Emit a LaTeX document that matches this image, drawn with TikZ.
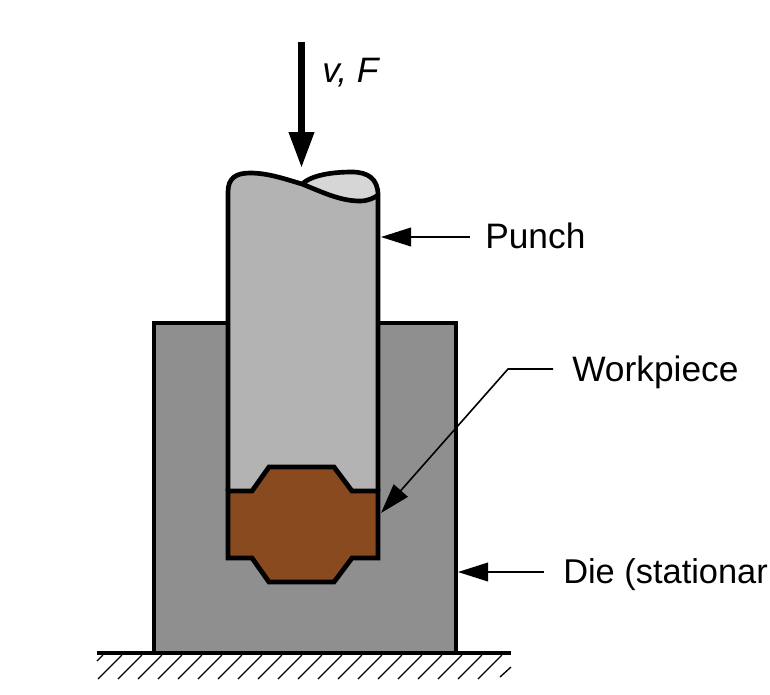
\documentclass[tikz,border=0pt]{standalone}
\usepackage{fontspec}
\setmainfont{Liberation Sans}
\usetikzlibrary{arrows.meta}
\definecolor{diegray}{HTML}{8F8F8F}
\definecolor{punchgray}{HTML}{B3B3B3}
\definecolor{punchtop}{HTML}{D6D6D6}
\definecolor{workbrown}{HTML}{8A4A20}
\tikzset{
  x=0.75pt,y=-0.75pt,
  thinout/.style={draw=black,line width=3.5pt,line join=round},
  hatchline/.style={draw=black,line width=1pt},
  leader/.style={draw=black,line width=1.2pt,-{Triangle[length=22.5pt,width=14pt,sep=0pt]},shorten >=0pt},
  labeltext/.style={font=\fontsize{26.5}{30}\selectfont,anchor=base west,inner sep=0pt,text=black},
}
\begin{document}
\begin{tikzpicture}
\useasboundingbox (0,0) rectangle (770,694);
\clip (0,0) rectangle (770,694);
% die
\path[fill=diegray,draw=black,line width=3.5pt,line join=miter] (154,652) -- (154,323) -- (456,323) -- (456,652);
% ground
\draw[line width=3.4pt] (97,653) -- (511,653);
\foreach \k in {0,...,19}{
  \draw[hatchline] ({98+20*\k},679) -- ({122+20*\k},655);
}
\draw[hatchline] (97,661) -- (103,655);
\draw[hatchline] (500,677) -- (511,667);
% punch
\path[fill=punchgray] (228,491) -- (228,192) .. controls (228,178) and (236,173) .. (250,173)
  .. controls (268,173) and (285,179) .. (302,184)
  .. controls (322,192) and (340,201) .. (360,201) .. controls (368,201) and (374,198) .. (378,195) -- (378,491) -- cycle;
\path[fill=punchtop] (302,184) .. controls (312,175) and (332,172) .. (352,172)
  .. controls (368,172) and (378,179) .. (378,195) .. controls (374,198) and (368,201) .. (360,201)
  .. controls (340,201) and (322,192) .. (302,184) -- cycle;
\draw[thinout] (228,491) -- (228,192) .. controls (228,178) and (236,173) .. (250,173)
  .. controls (268,173) and (285,179) .. (302,184)
  .. controls (322,192) and (340,201) .. (360,201) .. controls (368,201) and (374,198) .. (378,195)
  (302,184) .. controls (312,175) and (332,172) .. (352,172)
  .. controls (368,172) and (378,179) .. (378,195) -- (378,491);
% workpiece
\path[fill=workbrown,draw=black,line width=3.6pt,line join=miter]
  (228,491) -- (252,491) -- (269,467) -- (334,467) -- (352,491) -- (378,491)
  -- (378,558) -- (352,558) -- (334,582) -- (269,582) -- (252,558) -- (228,558) -- cycle;
% load arrow
\coordinate (loadstart) at (301.5,42);
\coordinate (loadtip) at (301.5,168);
\draw[line width=5.2pt,-{Triangle[length=27pt,width=18pt,sep=0pt]}] (loadstart) -- (loadtip);
\node[labeltext,font=\fontsize{26.5}{30}\selectfont\itshape] (vf) at (322,82) {v, F};
% labels
\node[labeltext] (punch) at (485,248) {Punch};
\node[labeltext] (work) at (572,381) {Workpiece};
\node[labeltext,font=\fontsize{25.8}{30}\selectfont] (die) at (563,583) {Die (stationar};
% connectors
\coordinate (punchend) at (470,237);
\coordinate (punchtip) at (381,237);
\coordinate (workend) at (553,369);
\coordinate (workbend) at (508,369);
\coordinate (worktip) at (381,513);
\coordinate (dieend) at (544,572);
\coordinate (dietip) at (458,572);
\draw[leader] (punchend) -- (punchtip);
\draw[leader,line join=round] (workend) -- (workbend) -- (worktip);
\draw[leader] (dieend) -- (dietip);
\end{tikzpicture}
\end{document}
